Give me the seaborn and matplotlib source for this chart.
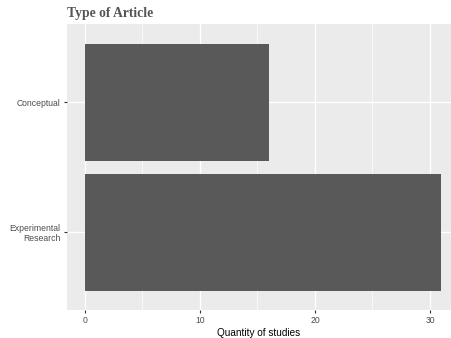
import matplotlib
matplotlib.use("Agg")
import matplotlib.pyplot as plt
import seaborn as sns
import pandas as pd
from matplotlib.ticker import MultipleLocator

categories = ["Conceptual", "Experimental\nResearch"]
values = [16, 31]
xticks = [0, 10, 20, 30]

df = pd.DataFrame({"type": categories, "n": values})

sns.set_theme(style="darkgrid")
plt.rcParams["font.family"] = ["Liberation Sans", "DejaVu Sans"]

fig = plt.figure(figsize=(4.51, 3.38), dpi=100)
ax = fig.add_axes([67/451, 28/338, (451-67)/451, (310-24)/338])
ax.set_facecolor("#EBEBEB")

sns.barplot(data=df, x="n", y="type", orient="h", color="#595959",
            saturation=1, width=0.9, ax=ax, edgecolor="none", linewidth=0)

ax.set_xlim(-1.565, 31.83)
ax.set_ylim(1.6, -0.6)
ax.set_xticks(xticks)
ax.xaxis.set_minor_locator(MultipleLocator(5))
ax.grid(which="major", color="white", linewidth=1.0)
ax.grid(which="minor", axis="x", color="white", linewidth=0.5)
ax.set_axisbelow(True)
for s in ax.spines.values():
    s.set_visible(False)

ax.tick_params(axis="both", which="major", bottom=True, left=True,
               length=2.5, width=0.8, color="#333333",
               labelsize=6.2, labelcolor="#4D4D4D", pad=2)
ax.tick_params(axis="x", which="minor", length=0)
for lbl in ax.get_yticklabels():
    lbl.set_horizontalalignment("right")
    lbl.set_multialignment("right")
ax.set_ylabel("")
ax.set_xlabel("Quantity of studies", fontsize=7.2, color="black", labelpad=2)

fig.text(67/451, 1 - 13/338, "Type of Article", ha="left", va="center",
         fontsize=9.8, fontweight="bold", color="#555555",
         family=["Liberation Serif", "DejaVu Serif"])

fig.savefig("out.png", dpi=100)
